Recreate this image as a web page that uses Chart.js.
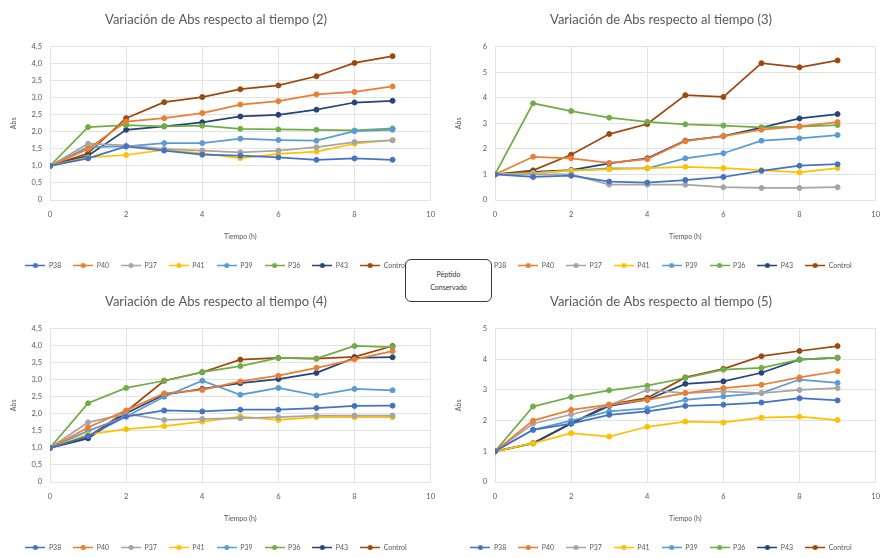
<!DOCTYPE html>
<html lang="es">
<head>
<meta charset="UTF-8">
<title>Variación de Abs respecto al tiempo</title>
<script src="https://cdn.jsdelivr.net/npm/chart.js"></script>
<style>
  body { margin: 0; background: #fff; overflow: hidden; }
  #tablero { position: relative; width: 890px; height: 558px; overflow: hidden; }
  .grafico { position: absolute; width: 445px; height: 279px; }
  #etiqueta {
    position: absolute; left: 405px; top: 259px; width: 85px; height: 41px;
    border: 1px solid #3a3a3a; border-radius: 6px; background: #fff;
    font: 7px Lato, sans-serif; color: #333; text-align: center;
    display: flex; flex-direction: column; justify-content: center; line-height: 13px;
  }
</style>
</head>
<body>
<div id="tablero">
  <div class="grafico" style="left:0;top:0"><canvas id="g2"></canvas></div>
  <div class="grafico" style="left:445px;top:0"><canvas id="g3"></canvas></div>
  <div class="grafico" style="left:0;top:282px"><canvas id="g4"></canvas></div>
  <div class="grafico" style="left:445px;top:282px"><canvas id="g5"></canvas></div>
  <div id="etiqueta"><span>Péptido</span><span>Conservado</span></div>
</div>
<script>
// datos
const tiempos = [0, 1, 2, 3, 4, 5, 6, 7, 8, 9];
const peptidos = ['P38', 'P40', 'P37', 'P41', 'P39', 'P36', 'P43', 'Control'];
const colores = ['#4472C4', '#ED7D31', '#A5A5A5', '#FFC000', '#5B9BD5', '#70AD47', '#264478', '#9E480E'];

// un array por peptido, en el orden de "peptidos"
const abs2 = [
  [1, 1.22, 1.57, 1.45, 1.33, 1.3, 1.25, 1.18, 1.22, 1.18],
  [1, 1.5, 2.3, 2.4, 2.55, 2.8, 2.9, 3.1, 3.17, 3.33],
  [1, 1.65, 1.6, 1.5, 1.45, 1.4, 1.45, 1.55, 1.7, 1.75],
  [1, 1.25, 1.32, 1.47, 1.37, 1.23, 1.35, 1.42, 1.65, 1.76],
  [1, 1.55, 1.57, 1.67, 1.67, 1.8, 1.76, 1.74, 2.02, 2.06],
  [1, 2.14, 2.2, 2.16, 2.18, 2.09, 2.07, 2.06, 2.04, 2.1],
  [1, 1.3, 2.06, 2.16, 2.28, 2.45, 2.5, 2.65, 2.86, 2.91],
  [1, 1.37, 2.4, 2.87, 3.02, 3.25, 3.36, 3.63, 4.02, 4.22]
];
const abs3 = [
  [1, 0.9, 0.95, 0.72, 0.68, 0.78, 0.9, 1.14, 1.34, 1.4],
  [1, 1.69, 1.63, 1.45, 1.6, 2.3, 2.5, 2.75, 2.88, 3.05],
  [1, 1.0, 1.0, 0.6, 0.6, 0.6, 0.5, 0.47, 0.47, 0.5],
  [1, 1.05, 1.15, 1.2, 1.25, 1.3, 1.25, 1.17, 1.08, 1.25],
  [1, 1.05, 1.15, 1.24, 1.24, 1.63, 1.83, 2.32, 2.41, 2.54],
  [1, 3.78, 3.48, 3.22, 3.06, 2.96, 2.91, 2.84, 2.87, 2.93],
  [1, 1.1, 1.17, 1.43, 1.63, 2.32, 2.5, 2.83, 3.19, 3.36],
  [1, 1.16, 1.77, 2.58, 2.97, 4.1, 4.03, 5.35, 5.19, 5.46]
];
const abs4 = [
  [1, 1.35, 1.92, 2.1, 2.07, 2.12, 2.12, 2.17, 2.23, 2.24],
  [1, 1.6, 2.1, 2.6, 2.7, 2.95, 3.12, 3.35, 3.6, 3.84],
  [1, 1.75, 2.0, 1.82, 1.85, 1.87, 1.9, 1.95, 1.95, 1.95],
  [1, 1.4, 1.55, 1.64, 1.77, 1.92, 1.82, 1.9, 1.9, 1.9],
  [1, 1.5, 1.92, 2.5, 2.97, 2.56, 2.76, 2.54, 2.73, 2.69],
  [1, 2.31, 2.76, 2.97, 3.22, 3.4, 3.64, 3.62, 3.99, 3.96],
  [1, 1.28, 2.02, 2.56, 2.73, 2.9, 3.02, 3.2, 3.64, 3.66],
  [1, 1.33, 2.07, 2.97, 3.22, 3.59, 3.64, 3.62, 3.67, 3.99]
];
const abs5 = [
  [1, 1.7, 1.9, 2.19, 2.3, 2.48, 2.52, 2.59, 2.73, 2.66],
  [1, 2.0, 2.35, 2.52, 2.68, 2.9, 3.06, 3.17, 3.41, 3.61],
  [1, 1.9, 2.2, 2.5, 3.0, 2.9, 2.95, 2.9, 3.0, 3.06],
  [1, 1.26, 1.59, 1.48, 1.8, 1.97, 1.94, 2.1, 2.13, 2.02],
  [1, 1.7, 2.0, 2.3, 2.4, 2.68, 2.79, 2.9, 3.34, 3.23],
  [1, 2.46, 2.77, 2.99, 3.14, 3.39, 3.66, 3.72, 3.99, 4.05],
  [1, 1.26, 1.91, 2.48, 2.68, 3.2, 3.28, 3.56, 3.99, 4.05],
  [1, 1.26, 1.91, 2.52, 2.74, 3.41, 3.69, 4.1, 4.27, 4.43]
];

// ejes
const ejeX = { min: 0, max: 10, paso: 2 };
const ejesY = { g2: [0, 4.5, 0.5], g3: [0, 6, 1], g4: [0, 4.5, 0.5], g5: [0, 5, 1] };

const gris = '#595959';
const fuente = 'Lato, sans-serif';

// icono de leyenda estilo Excel: linea con marcador
function iconoLeyenda(color) {
  var c = document.createElement('canvas');
  c.width = 20; c.height = 7;
  var x = c.getContext('2d');
  x.strokeStyle = color; x.lineWidth = 1.5;
  x.beginPath(); x.moveTo(0, 3.5); x.lineTo(20, 3.5); x.stroke();
  x.fillStyle = color;
  x.beginPath(); x.arc(10, 3.5, 2.5, 0, Math.PI * 2); x.fill();
  return c;
}
const iconos = colores.map(iconoLeyenda);

function crearGrafico(id, numero, valores) {
  var y = ejesY[id];
  var datasets = [];
  for (var i = 0; i < peptidos.length; i++) {
    datasets.push({
      label: peptidos[i],
      data: tiempos.map(function (t, k) { return { x: t, y: valores[i][k] }; }),
      borderColor: colores[i],
      backgroundColor: colores[i],
      borderWidth: 1.75,
      pointRadius: 2.5,
      pointBorderWidth: 1,
      pointStyle: 'circle',
      tension: 0
    });
  }
  new Chart(document.getElementById(id), {
    type: 'line',
    data: { datasets: datasets },
    options: {
      responsive: true,
      maintainAspectRatio: false,
      animation: false,
      locale: 'es-ES',
      layout: { padding: { left: 0, right: 13, top: 0, bottom: 0 } },
      plugins: {
        title: {
          display: true,
          text: 'Variación de Abs respecto al tiempo (' + numero + ')',
          color: gris,
          font: { family: fuente, size: 13, weight: 'normal' },
          padding: { top: 12, bottom: 19 }
        },
        legend: {
          position: 'bottom',
          labels: {
            color: gris,
            font: { family: fuente, size: 7 },
            usePointStyle: true,
            pointStyleWidth: 20,
            padding: 12,
            generateLabels: function (chart) {
              return chart.data.datasets.map(function (d, i) {
                return { text: d.label, pointStyle: iconos[i], fontColor: gris, datasetIndex: i, lineWidth: 0, strokeStyle: 'transparent', fillStyle: 'transparent' };
              });
            }
          }
        },
        tooltip: { enabled: false }
      },
      scales: {
        x: {
          type: 'linear',
          min: ejeX.min, max: ejeX.max,
          ticks: { stepSize: ejeX.paso, color: gris, font: { family: fuente, size: 7.5 }, padding: 10 },
          grid: { color: '#e3e3e3', drawTicks: false },
          border: { display: false },
          title: { display: true, text: 'Tiempo (h)', color: gris, font: { family: fuente, size: 7 }, padding: { top: 2, bottom: 9 } },
          afterFit: function (s) { s.height = 50; }
        },
        y: {
          min: y[0], max: y[1],
          ticks: { stepSize: y[2], color: gris, font: { family: fuente, size: 7.5 }, padding: 8 },
          grid: { color: '#e3e3e3', drawTicks: false },
          border: { display: false },
          title: { display: true, text: 'Abs', color: gris, font: { family: fuente, size: 7 }, padding: { top: 10, bottom: 0 } },
          afterFit: function (s) { s.width = 50; }
        }
      }
    }
  });
}

crearGrafico('g2', 2, abs2);
crearGrafico('g3', 3, abs3);
crearGrafico('g4', 4, abs4);
crearGrafico('g5', 5, abs5);
</script>
</body>
</html>
